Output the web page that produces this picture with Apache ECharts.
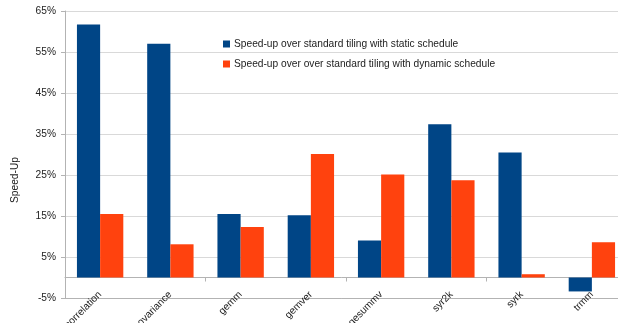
<!DOCTYPE html>
<html>
<head>
    <meta charset="utf-8">
    <title>Speed-up</title>
    <script src="https://cdn.jsdelivr.net/npm/echarts@6/dist/echarts.min.js"></script>
    <style>
        html, body { margin: 0; padding: 0; background: #fff; }
    </style>
</head>
<body>
    <div id="main" style="width: 618px;height:323px;"></div>
    <script type="text/javascript">
        // benchmark names along the x axis
        var kernels = ['correlation', 'covariance', 'gemm', 'gemver', 'gesummv', 'syr2k', 'syrk', 'trmm'];

        // speed-up in percent
        var staticSpeedup = [61.7, 57.0, 15.5, 15.2, 9.0, 37.4, 30.5, -3.4];
        var dynamicSpeedup = [15.5, 8.1, 12.3, 30.1, 25.1, 23.7, 0.8, 8.6];

        var seriesNames = [
            'Speed-up over standard tiling with static schedule',
            'Speed-up over over standard tiling with dynamic schedule'
        ];

        // labelled y ticks (grid lines are every 5%)
        var yLabels = [-5, 5, 15, 25, 35, 45, 55, 65];

        var font = 'Liberation Sans, Arial, sans-serif';
        var fs = 10.2;
        var myChart = echarts.init(document.getElementById('main'));

        var option = {
            animation: false,
            textStyle: { fontFamily: font },
            grid: { left: 65, right: -9, top: 11, bottom: 25, containLabel: false, outerBoundsMode: 'none' },
            legend: {
                orient: 'vertical',
                left: 218,
                top: 34,
                itemWidth: 7,
                itemHeight: 7,
                itemGap: 10,
                icon: 'rect',
                textStyle: { fontSize: fs, color: '#222', fontFamily: font, padding: [0, 0, 0, -1] },
                data: seriesNames
            },
            xAxis: [{
                type: 'category',
                data: kernels,
                axisLine: { onZero: false, lineStyle: { color: '#b3b3b3' } },
                axisTick: { show: false },
                axisLabel: { rotate: 45, margin: -5, fontSize: fs, color: '#222', fontFamily: font }
            }, {
                type: 'category',
                data: kernels,
                position: 'bottom',
                axisLine: { onZero: true, onZeroAxisIndex: 0, lineStyle: { color: '#b3b3b3' } },
                axisTick: { show: true, length: 4, lineStyle: { color: '#b3b3b3' } },
                axisLabel: { show: false }
            }],
            yAxis: {
                type: 'value',
                min: -5,
                max: 65,
                interval: 5,
                axisLine: { show: true, lineStyle: { color: '#b3b3b3' } },
                axisTick: { show: true, length: 4, customValues: yLabels, lineStyle: { color: '#b3b3b3' } },
                axisLabel: {
                    customValues: yLabels,
                    margin: 9,
                    fontSize: fs,
                    color: '#222',
                    fontFamily: font,
                    formatter: function (v) { return v + '%'; }
                },
                splitLine: { show: true, lineStyle: { color: '#d9d9d9' } }
            },
            graphic: [{
                type: 'text',
                x: 15,
                y: 180,
                rotation: Math.PI / 2,
                style: {
                    text: 'Speed-Up',
                    fontSize: fs,
                    fill: '#222',
                    fontFamily: font,
                    align: 'center',
                    verticalAlign: 'middle'
                }
            }],
            series: [{
                name: seriesNames[0],
                type: 'bar',
                xAxisIndex: 0,
                data: staticSpeedup,
                barGap: '0%',
                barCategoryGap: '34%',
                itemStyle: { color: '#004586' }
            }, {
                name: seriesNames[1],
                type: 'bar',
                xAxisIndex: 0,
                data: dynamicSpeedup,
                barGap: '0%',
                barCategoryGap: '34%',
                itemStyle: { color: '#ff420e' }
            }]
        };

        myChart.setOption(option);
    </script>
</body>
</html>
